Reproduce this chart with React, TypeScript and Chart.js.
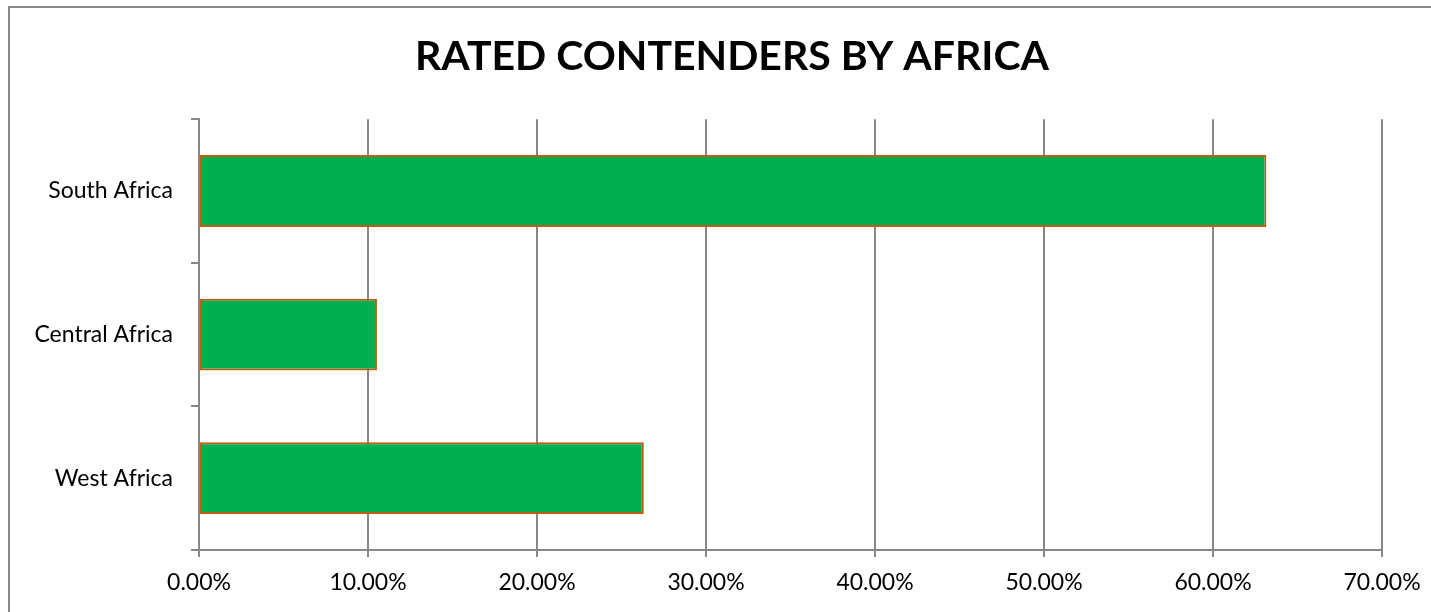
import React, { useEffect, useRef } from "react";
import { Chart, registerables } from "chart.js";

Chart.register(...registerables);

const categories: string[] = ["South Africa", "Central Africa", "West Africa"];
const shares: number[] = [63.16, 10.53, 26.32];
const xTickMin = 0;
const xTickMax = 70;
const xTickStep = 10;
const titleText = "RATED CONTENDERS BY AFRICA";

export default function App() {
  const ref = useRef<HTMLCanvasElement | null>(null);

  useEffect(() => {
    if (!ref.current) return;
    document.body.style.overflow = "hidden";
    const gridColor = "#878787";
    const chart = new Chart(ref.current, {
      type: "bar",
      data: {
        labels: categories,
        datasets: [
          {
            data: shares,
            backgroundColor: "#00B050",
            borderColor: "#C55A11",
            borderWidth: 2,
            borderSkipped: false,
            barPercentage: 0.5,
            categoryPercentage: 1,
          },
        ],
      },
      options: {
        indexAxis: "y",
        animation: false,
        responsive: false,
        maintainAspectRatio: false,
        layout: { padding: 0 },
        plugins: {
          legend: { display: false },
          tooltip: { enabled: false },
          title: {
            display: true,
            text: titleText,
            color: "#000000",
            font: { family: "Lato", size: 41, weight: "bold", lineHeight: 1.2 },
            padding: { top: 24, bottom: 38 },
          },
        },
        scales: {
          x: {
            min: xTickMin,
            max: xTickMax,
            ticks: {
              stepSize: xTickStep,
              color: "#000000",
              font: { family: "Lato", size: 23 },
              padding: 12,
              callback: (v: any) => Number(v).toFixed(2) + "%",
            },
            grid: { color: gridColor, lineWidth: 2, tickLength: 7 },
            border: { color: gridColor, width: 2 },
            afterFit: (s: any) => {
              s.height = 62;
              s.paddingLeft = 0;
              s.paddingRight = 72;
            },
          },
          y: {
            ticks: {
              color: "#000000",
              font: { family: "Lato", size: 23 },
              padding: 18,
            },
            grid: {
              offset: true,
              drawOnChartArea: false,
              drawTicks: true,
              tickLength: 8,
              color: gridColor,
              lineWidth: 2,
            },
            border: { color: gridColor, width: 2 },
            afterFit: (s: any) => {
              s.width = 189;
            },
          },
        },
      },
    });
    return () => chart.destroy();
  }, []);

  return (
    <div
      style={{
        position: "fixed",
        left: 8,
        top: 6,
        width: 1446,
        height: 620,
        overflow: "hidden",
        background: "#fff",
        borderTop: "2px solid #888888",
        borderLeft: "2px solid #888888",
        boxSizing: "border-box",
      }}
    >
      <canvas ref={ref} width={1444} height={604} style={{ display: "block" }} />
    </div>
  );
}
